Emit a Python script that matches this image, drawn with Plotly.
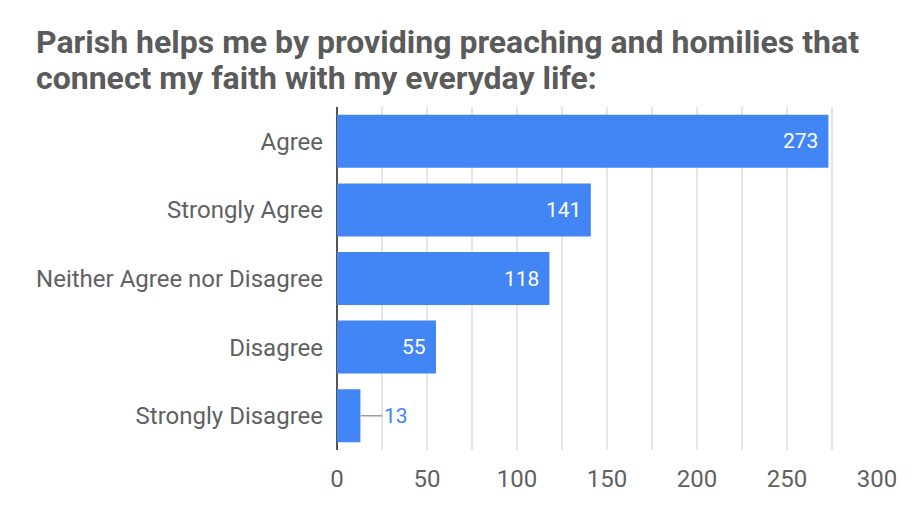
import plotly.graph_objects as go

categories = ["Agree", "Strongly Agree", "Neither Agree nor Disagree", "Disagree", "Strongly Disagree"]
values = [273, 141, 118, 55, 13]
x_tick_vals = [0, 50, 100, 150, 200, 250, 300]

title_lines = ["Parish helps me by providing preaching and homilies that",
               "connect my faith with my everyday life:"]

BLUE = "#4285F4"
W, H = 911, 513
L, R, T, B = 337, 34, 107, 63
PW, PH = W - L - R, H - T - B

fig = go.Figure()
fig.add_trace(go.Bar(
    x=values,
    y=categories,
    orientation="h",
    marker=dict(color=BLUE, line=dict(width=0)),
    hoverinfo="skip",
))

# data labels
for v, c in zip(values, categories):
    if v >= 30:
        fig.add_annotation(
            x=v, y=c, xref="x", yref="y", text=str(v), showarrow=False,
            xanchor="right", xshift=-8,
            font=dict(family="Roboto", size=21, color="white"),
        )
    else:
        fig.add_annotation(
            x=v, y=c, xref="x", yref="y",
            text=str(v), showarrow=True, arrowhead=0, arrowwidth=1.5,
            arrowcolor="#9e9e9e", ax=22, ay=0, xanchor="left",
            font=dict(family="Roboto", size=21, color=BLUE),
        )

# two-line title
for i, (line, ymid) in enumerate(zip(title_lines, [42, 78])):
    fig.add_annotation(
        x=(34 - L) / PW, y=1 + (T - ymid) / PH, xref="paper", yref="paper",
        text=line, showarrow=False, xanchor="left", yanchor="middle",
        font=dict(family="Roboto", size=32, color="#5b5b5b", weight="bold"),
    )

fig.update_layout(
    width=W, height=H,
    margin=dict(l=L, r=R, t=T, b=B),
    paper_bgcolor="white", plot_bgcolor="white",
    bargap=0.227,
    showlegend=False,
    font=dict(family="Roboto", size=24, color="#616161"),
    xaxis=dict(
        range=[0, 300],
        tickvals=x_tick_vals,
        ticktext=[str(t) for t in x_tick_vals],
        showgrid=True, gridcolor="#e6e6e6", gridwidth=1.5,
        minor=dict(dtick=25, showgrid=True, gridcolor="#e6e6e6", gridwidth=1.5),
        zeroline=True, zerolinecolor="#555", zerolinewidth=2,
        showline=False, ticks="",
        ticklabelstandoff=12,
        tickfont=dict(family="Roboto", size=24, color="#616161"),
        fixedrange=True,
    ),
    yaxis=dict(
        categoryorder="array", categoryarray=categories,
        autorange="reversed",
        showgrid=False, zeroline=False, showline=False, ticks="",
        ticklabelstandoff=13,
        tickfont=dict(family="Roboto", size=24, color="#616161"),
        fixedrange=True,
    ),
)

fig.write_html("out.html", post_script="document.body.style.margin='0';",
               config={"displayModeBar": False})
